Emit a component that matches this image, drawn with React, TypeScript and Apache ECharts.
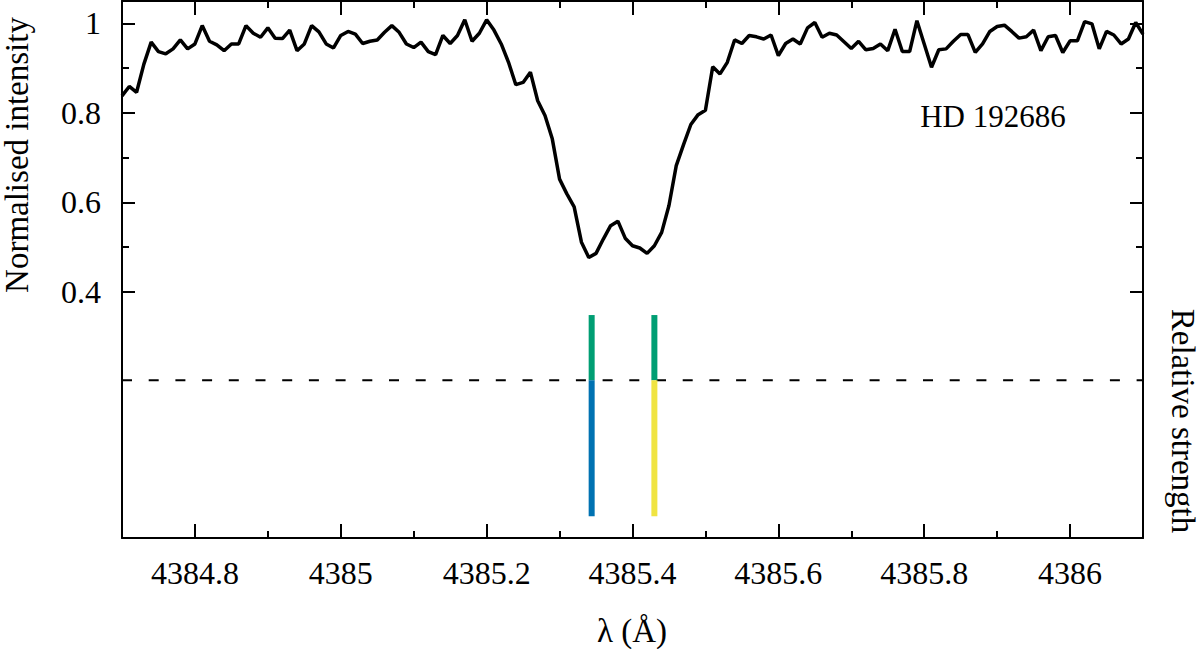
import React, { useEffect, useRef } from "react";
import * as echarts from "echarts";

const wavelengths = [
  4384.70, 4384.71, 4384.72, 4384.73, 4384.74, 4384.75, 4384.76, 4384.77, 4384.78, 4384.79,
  4384.80, 4384.81, 4384.82, 4384.83, 4384.84, 4384.85, 4384.86, 4384.87, 4384.88, 4384.89,
  4384.90, 4384.91, 4384.92, 4384.93, 4384.94, 4384.95, 4384.96, 4384.97, 4384.98, 4384.99,
  4385.00, 4385.01, 4385.02, 4385.03, 4385.04, 4385.05, 4385.06, 4385.07, 4385.08, 4385.09,
  4385.10, 4385.11, 4385.12, 4385.13, 4385.14, 4385.15, 4385.16, 4385.17, 4385.18, 4385.19,
  4385.20, 4385.21, 4385.22, 4385.23, 4385.24, 4385.25, 4385.26, 4385.27, 4385.28, 4385.29,
  4385.30, 4385.31, 4385.32, 4385.33, 4385.34, 4385.35, 4385.36, 4385.37, 4385.38, 4385.39,
  4385.40, 4385.41, 4385.42, 4385.43, 4385.44, 4385.45, 4385.46, 4385.47, 4385.48, 4385.49,
  4385.50, 4385.51, 4385.52, 4385.53, 4385.54, 4385.55, 4385.56, 4385.57, 4385.58, 4385.59,
  4385.60, 4385.61, 4385.62, 4385.63, 4385.64, 4385.65, 4385.66, 4385.67, 4385.68, 4385.69,
  4385.70, 4385.71, 4385.72, 4385.73, 4385.74, 4385.75, 4385.76, 4385.77, 4385.78, 4385.79,
  4385.80, 4385.81, 4385.82, 4385.83, 4385.84, 4385.85, 4385.86, 4385.87, 4385.88, 4385.89,
  4385.90, 4385.91, 4385.92, 4385.93, 4385.94, 4385.95, 4385.96, 4385.97, 4385.98, 4385.99,
  4386.00, 4386.01, 4386.02, 4386.03, 4386.04, 4386.05, 4386.06, 4386.07, 4386.08, 4386.09,
  4386.10,
];

const intensity = [
  0.838, 0.859, 0.846, 0.909, 0.958, 0.937, 0.932, 0.943, 0.963, 0.943,
  0.954, 0.995, 0.960, 0.952, 0.939, 0.954, 0.954, 0.995, 0.978, 0.969,
  0.990, 0.967, 0.966, 0.985, 0.939, 0.954, 0.995, 0.981, 0.954, 0.945,
  0.973, 0.982, 0.976, 0.955, 0.960, 0.963, 0.980, 0.995, 0.980, 0.954,
  0.946, 0.958, 0.937, 0.930, 0.973, 0.955, 0.973, 1.008, 0.960, 0.978,
  1.008, 0.985, 0.954, 0.913, 0.863, 0.868, 0.891, 0.827, 0.794, 0.742,
  0.652, 0.619, 0.590, 0.511, 0.477, 0.486, 0.518, 0.548, 0.558, 0.520,
  0.503, 0.498, 0.486, 0.503, 0.533, 0.593, 0.682, 0.729, 0.774, 0.796,
  0.806, 0.903, 0.887, 0.913, 0.963, 0.955, 0.973, 0.970, 0.965, 0.974,
  0.928, 0.955, 0.965, 0.954, 0.990, 1.002, 0.969, 0.978, 0.974, 0.959,
  0.944, 0.960, 0.941, 0.944, 0.954, 0.939, 0.987, 0.937, 0.937, 1.006,
  0.954, 0.902, 0.941, 0.943, 0.960, 0.975, 0.975, 0.935, 0.954, 0.982,
  0.993, 0.996, 0.982, 0.967, 0.970, 0.985, 0.939, 0.970, 0.973, 0.935,
  0.961, 0.961, 1.004, 0.999, 0.943, 0.982, 0.974, 0.954, 0.965, 1.002,
  0.976,
];

// Stick (line-strength) diagram
const lineWavelengths = [4385.344, 4385.43];
const upperStrength = [0.48, 0.48];
const lowerStrength = [-1, -1];
const upperColors = ["#009E73", "#009E73"];
const lowerColors = ["#0072B2", "#F0E442"];

const xMin = 4384.7;
const xMax = 4386.1;
const xMajorTicks = [4384.8, 4385, 4385.2, 4385.4, 4385.6, 4385.8, 4386];
const xMinorTicks = [4384.9, 4385.1, 4385.3, 4385.5, 4385.7, 4385.9];
const yMin = -0.15;
const yMax = 1.05;
const yMajorTicks = [0.4, 0.6, 0.8, 1];
const yMinorTicks = [0.5, 0.7, 0.9];
const strengthMin = -1.16;
const strengthMax = 2.79;
const baselineStrength = 0;

const FONT = "Liberation Serif";

export default function App() {
  const ref = useRef<HTMLDivElement>(null);

  useEffect(() => {
    document.body.style.margin = "0";
    if (!ref.current) return;
    const chart = echarts.init(ref.current, undefined, { renderer: "svg" });

    const frameLine = { show: true, onZero: false, lineStyle: { color: "#000", width: 2 } };
    const noLine = { show: false, onZero: false };
    const tick = (vals: number[], len: number) => ({
      show: true,
      inside: true,
      length: len,
      customValues: vals,
      lineStyle: { color: "#000", width: 2 },
    });
    const noLabel = { show: false };

    const xBase = { type: "value", min: xMin, max: xMax, gridIndex: 0, splitLine: { show: false } };
    const yBase = { type: "value", min: yMin, max: yMax, gridIndex: 0, splitLine: { show: false } };

    const spectrum = wavelengths.map((w, i) => [w, intensity[i]]);

    const stickSeries: any[] = [];
    lineWavelengths.forEach((w, i) => {
      stickSeries.push({
        type: "line",
        xAxisIndex: 0,
        yAxisIndex: 4,
        data: [[w, baselineStrength], [w, upperStrength[i]]],
        symbol: "none",
        lineStyle: { color: upperColors[i], width: 6, cap: "butt" },
        z: 4,
      });
      stickSeries.push({
        type: "line",
        xAxisIndex: 0,
        yAxisIndex: 4,
        data: [[w, baselineStrength], [w, lowerStrength[i]]],
        symbol: "none",
        lineStyle: { color: lowerColors[i], width: 6, cap: "butt" },
        z: 4,
      });
    });

    const labelStyle = {
      fontSize: 32,
      fontFamily: FONT,
      color: "#000",
      formatter: (v: number) => `{t|${v}}`,
      rich: {
        t: { fontSize: 32, fontFamily: FONT, color: "#000" },
      },
    };

    const option: any = {
      animation: false,
      textStyle: { fontFamily: FONT },
      grid: { left: 122, right: 57, top: 1, bottom: 111 },
      xAxis: [
        {
          ...xBase,
          position: "bottom",
          axisLine: frameLine,
          axisTick: tick(xMajorTicks, 14),
          axisLabel: { ...labelStyle, margin: 19, customValues: xMajorTicks },
        },
        { ...xBase, position: "bottom", axisLine: noLine, axisTick: tick(xMinorTicks, 7), axisLabel: noLabel },
        { ...xBase, position: "top", axisLine: frameLine, axisTick: tick(xMajorTicks, 14), axisLabel: noLabel },
        { ...xBase, position: "top", axisLine: noLine, axisTick: tick(xMinorTicks, 7), axisLabel: noLabel },
      ],
      yAxis: [
        {
          ...yBase,
          position: "left",
          axisLine: frameLine,
          axisTick: tick(yMajorTicks, 13),
          axisLabel: { ...labelStyle, margin: 21, customValues: yMajorTicks },
        },
        { ...yBase, position: "left", axisLine: noLine, axisTick: tick(yMinorTicks, 7), axisLabel: noLabel },
        { ...yBase, position: "right", axisLine: frameLine, axisTick: tick(yMajorTicks, 13), axisLabel: noLabel },
        { ...yBase, position: "right", axisLine: noLine, axisTick: tick(yMinorTicks, 7), axisLabel: noLabel },
        {
          type: "value",
          min: strengthMin,
          max: strengthMax,
          position: "right",
          gridIndex: 0,
          axisLine: noLine,
          axisTick: { show: false },
          axisLabel: noLabel,
          splitLine: { show: false },
        },
      ],
      series: [
        {
          type: "line",
          xAxisIndex: 0,
          yAxisIndex: 4,
          data: [[xMin, baselineStrength], [xMax, baselineStrength]],
          symbol: "none",
          lineStyle: { color: "#000", width: 2, type: [10, 16.7] },
          z: 2,
        },
        ...stickSeries,
        {
          type: "line",
          xAxisIndex: 0,
          yAxisIndex: 0,
          data: spectrum,
          symbol: "none",
          showSymbol: false,
          clip: true,
          lineStyle: { color: "#000", width: 3.5 },
          z: 5,
        },
      ],
      graphic: [
        {
          type: "text",
          x: 17,
          y: 155,
          rotation: Math.PI / 2,
          style: {
            text: "Normalised intensity",
            fontSize: 33,
            fontFamily: FONT,
            fill: "#000",
            align: "center",
            verticalAlign: "middle",
          },
        },
        {
          type: "text",
          x: 632,
          y: 631,
          style: {
            text: "λ (Å)",
            fontSize: 33,
            fontFamily: FONT,
            fill: "#000",
            align: "center",
            verticalAlign: "middle",
          },
        },
        {
          type: "text",
          x: 1183,
          y: 421,
          rotation: -Math.PI / 2,
          style: {
            text: "Relative strength",
            fontSize: 33,
            fontFamily: FONT,
            fill: "#000",
            align: "center",
            verticalAlign: "middle",
          },
        },
        {
          type: "text",
          x: 993,
          y: 116,
          style: {
            text: "HD 192686",
            fontSize: 31,
            fontFamily: FONT,
            fill: "#000",
            align: "center",
            verticalAlign: "middle",
          },
        },
      ],
    };

    chart.setOption(option);
    return () => chart.dispose();
  }, []);

  return <div ref={ref} style={{ width: 1200, height: 649 }} />;
}
